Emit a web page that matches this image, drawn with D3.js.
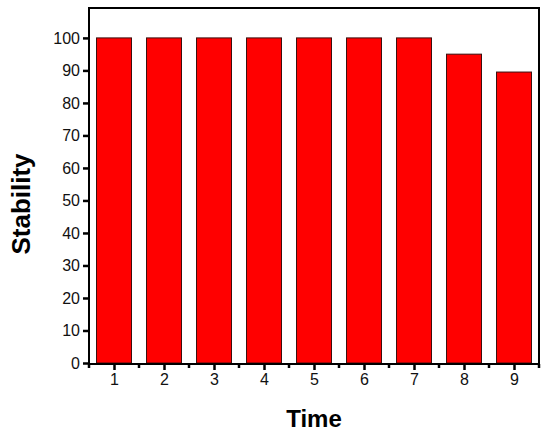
<!DOCTYPE html>
<html><head><meta charset="utf-8">
<script src="https://cdn.jsdelivr.net/npm/d3@7"></script>
<style>body{margin:0;background:#fff}svg{display:block}</style>
</head><body>
<script>
const categories = [1,2,3,4,5,6,7,8,9];
const stability = [100,100,100,100,100,100,100,95,89.5];
const yTicks = [0,10,20,30,40,50,60,70,80,90,100];

const W = 550, H = 437;
const m = {left: 89, right: 11, top: 8, bottom: 73};
const svg = d3.select("body").append("svg").attr("width", W).attr("height", H);
const x = d3.scaleLinear().domain([0.5, 9.5]).range([m.left, W - m.right]);
const y = d3.scaleLinear().domain([0, 109.2]).range([H - m.bottom - 1, m.top]);
const bw = (x(2) - x(1)) * 0.7;

svg.append("g").selectAll("rect").data(categories).join("rect")
  .attr("x", (d) => x(d) - bw/2)
  .attr("y", (d, i) => y(stability[i]))
  .attr("width", bw)
  .attr("height", (d, i) => y(0) - y(stability[i]))
  .attr("fill", "#ff0000").attr("stroke", "#3a1010").attr("stroke-width", 1);

// frame
svg.append("rect").attr("x", m.left).attr("y", m.top)
  .attr("width", W - m.left - m.right).attr("height", H - m.top - m.bottom)
  .attr("fill", "none").attr("stroke", "#000").attr("stroke-width", 2);

const font = "Arial, 'Liberation Sans', sans-serif";
const yAxis = d3.axisLeft(y).tickValues(yTicks).tickSize(6).tickPadding(3);
const gy = svg.append("g").attr("transform", `translate(${m.left},0)`).call(yAxis);
gy.select(".domain").remove();
gy.selectAll("line").attr("stroke-width", 2.5);
gy.selectAll("text").attr("font-family", font).attr("font-size", 16).attr("fill", "#111");

const xAxis = d3.axisBottom(x).tickValues(categories).tickSize(6).tickPadding(4).tickFormat(d3.format("d"));
const gx = svg.append("g").attr("transform", `translate(0,${H - m.bottom})`).call(xAxis);
gx.select(".domain").remove();
gx.selectAll("line").attr("stroke-width", 2.5);
gx.selectAll("text").attr("font-family", font).attr("font-size", 16).attr("fill", "#111");
const minor = categories.slice(0, -1).map(d => d + 0.5).concat([0.5, 9.5]);
svg.append("g").selectAll("line").data(minor).join("line")
  .attr("x1", d => x(d)).attr("x2", d => x(d))
  .attr("y1", H - m.bottom).attr("y2", H - m.bottom + 4)
  .attr("stroke", "#000").attr("stroke-width", 2.5);

svg.append("text").attr("x", 314).attr("y", 427).attr("text-anchor", "middle")
  .attr("font-family", font).attr("font-weight", "bold").attr("font-size", 24).text("Time");
svg.append("text").attr("transform", "translate(30,204) rotate(-90)").attr("text-anchor", "middle")
  .attr("font-family", font).attr("font-weight", "bold").attr("font-size", 26).text("Stability");
</script>
</body></html>
